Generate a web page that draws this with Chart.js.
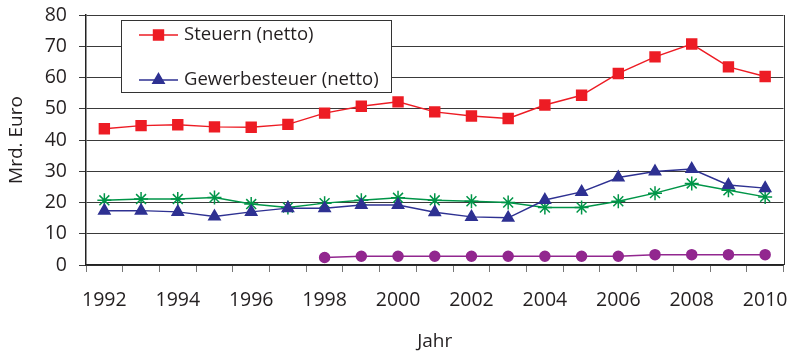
<!DOCTYPE html>
<html>
<head>
<meta charset="utf-8">
<script src="https://cdn.jsdelivr.net/npm/chart.js@4/dist/chart.umd.min.js"></script>
<style>
  html, body { margin: 0; padding: 0; background: #fff; }
  #wrap { width: 792px; height: 351px; position: relative; }
</style>
</head>
<body>
<div id="wrap"><canvas id="c" width="792" height="351"></canvas></div>
<script>
// Jahre (Kategorien)
const jahre = ['1992','1993','1994','1995','1996','1997','1998','1999','2000','2001',
               '2002','2003','2004','2005','2006','2007','2008','2009','2010'];

// Werte in Mrd. Euro
const steuernNetto = [43.6, 44.6, 44.9, 44.2, 44.1, 45.0, 48.6, 50.8, 52.2, 49.0,
                      47.7, 46.9, 51.2, 54.3, 61.3, 66.6, 70.7, 63.4, 60.3];
const gewerbesteuerNetto = [17.4, 17.4, 17.0, 15.5, 17.0, 18.2, 18.2, 19.2, 19.2, 16.9,
                            15.4, 15.1, 20.8, 23.4, 28.0, 29.9, 30.7, 25.6, 24.6];
const reiheGruen = [20.7, 21.1, 21.1, 21.6, 19.5, 18.4, 19.8, 20.7, 21.5, 20.7,
                    20.4, 20.0, 18.4, 18.4, 20.4, 23.0, 26.1, 23.9, 21.8];
const reiheLila = [null, null, null, null, null, null, 2.4, 2.8, 2.8, 2.8,
                   2.8, 2.8, 2.8, 2.8, 2.8, 3.3, 3.3, 3.3, 3.3];

const yTicks = [0, 10, 20, 30, 40, 50, 60, 70, 80];

const FONT = '"Open Sans", "DejaVu Sans", sans-serif';
const TXT = '#231f20';

// Legend box drawn inside the plot area (only the two labelled series)
const innerLegend = {
  id: 'innerLegend',
  afterDatasetsDraw(chart) {
    const ctx = chart.ctx;
    const x0 = 121, y0 = 20, w = 270, h = 72;
    ctx.save();
    ctx.fillStyle = '#fff';
    ctx.fillRect(x0, y0, w, h);
    ctx.strokeStyle = '#333';
    ctx.lineWidth = 1;
    ctx.strokeRect(x0 + 0.5, y0 + 0.5, w, h);
    const rowY = [35, 80];
    [0, 1].forEach((di, i) => {
      const ds = chart.data.datasets[di];
      const y = rowY[i];
      ctx.strokeStyle = ds.borderColor;
      ctx.lineWidth = ds.borderWidth;
      ctx.beginPath();
      ctx.moveTo(139, y);
      ctx.lineTo(178, y);
      ctx.stroke();
      ctx.fillStyle = ds.backgroundColor;
      ctx.strokeStyle = ds.borderColor;
      Chart.helpers.drawPoint(ctx, {
        pointStyle: ds.pointStyle,
        radius: ds.pointRadius,
        borderWidth: 1
      }, 158.5, y);
      ctx.fillStyle = TXT;
      ctx.font = '18.5px ' + FONT;
      ctx.textBaseline = 'middle';
      ctx.textAlign = 'left';
      ctx.fillText(ds.label, 184, y);
    });
    ctx.restore();
  }
};

// Frame around the plot area (right edge)
const frame = {
  id: 'frame',
  beforeDatasetsDraw(chart) {
    const a = chart.chartArea, ctx = chart.ctx;
    ctx.save();
    ctx.strokeStyle = '#333';
    ctx.lineWidth = 1;
    ctx.beginPath();
    ctx.moveTo(Math.round(a.right) + 0.5, a.top);
    ctx.lineTo(Math.round(a.right) + 0.5, a.bottom);
    ctx.stroke();
    ctx.restore();
  }
};

new Chart(document.getElementById('c'), {
  type: 'line',
  data: {
    labels: jahre,
    datasets: [
      { label: 'Steuern (netto)', data: steuernNetto,
        borderColor: '#ed1c24', backgroundColor: '#ed1c24',
        pointStyle: 'rect', pointRadius: 7, borderWidth: 1.5 },
      { label: 'Gewerbesteuer (netto)', data: gewerbesteuerNetto,
        borderColor: '#2e3192', backgroundColor: '#2e3192',
        pointStyle: 'triangle', pointRadius: 6.5, borderWidth: 1.5 },
      { label: 'Reihe 3', data: reiheGruen,
        borderColor: '#009548', backgroundColor: '#009548',
        pointStyle: 'star', pointRadius: 7, borderWidth: 1.5, pointBorderWidth: 1.5 },
      { label: 'Reihe 4', data: reiheLila,
        borderColor: '#92278f', backgroundColor: '#92278f',
        pointStyle: 'circle', pointRadius: 5, borderWidth: 1.5 }
    ]
  },
  options: {
    responsive: false,
    animation: false,
    layout: { padding: { top: 15, right: 7, left: 0, bottom: 0 } },
    plugins: { legend: { display: false }, tooltip: { enabled: false } },
    elements: { line: { tension: 0 } },
    scales: {
      x: {
        type: 'category',
        offset: true,
        grid: { display: true, offset: true, drawOnChartArea: false, drawTicks: true,
                tickLength: 7, color: '#777' },
        border: { color: '#222', width: 1.5 },
        ticks: {
          autoSkip: false, maxRotation: 0, padding: 17, color: TXT,
          font: { family: FONT, size: 19.5 },
          callback: (v, i) => (i % 2 === 0 ? jahre[i] : '')
        },
        title: { display: true, text: 'Jahr', color: TXT, font: { family: FONT, size: 19 }, padding: { top: 12, bottom: -2 } },
        afterFit(s) { s.height = 86; s.paddingLeft = 0; s.paddingRight = 0; }
      },
      y: {
        min: 0, max: 80,
        afterBuildTicks(s) { s.ticks = yTicks.map(v => ({ value: v })); },
        grid: { color: '#3a3a3a', lineWidth: 1, tickLength: 7, drawTicks: true },
        border: { color: '#222', width: 1.5 },
        ticks: { padding: 12, color: TXT, font: { family: FONT, size: 19.5 } },
        title: { display: true, text: 'Mrd. Euro', color: TXT, font: { family: FONT, size: 19 }, padding: { top: 5, bottom: 4 } },
        afterFit(s) { s.width = 86; s.paddingTop = 0; s.paddingBottom = 0; }
      }
    }
  },
  plugins: [frame, innerLegend]
});
</script>
</body>
</html>
